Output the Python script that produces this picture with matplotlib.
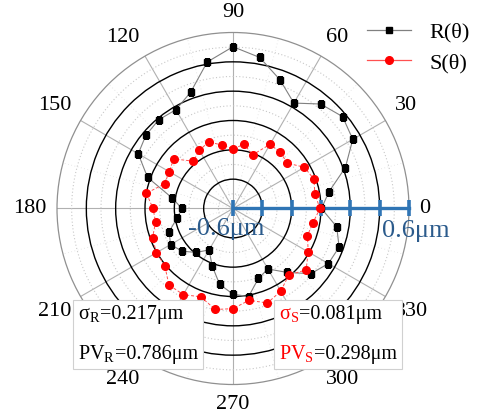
import numpy as np
import matplotlib
matplotlib.use("Agg")
import matplotlib.pyplot as plt
from matplotlib.lines import Line2D
from matplotlib.offsetbox import TextArea, HPacker, VPacker, AnchoredOffsetbox

plt.rcParams['font.family'] = ['Liberation Serif', 'DejaVu Serif']
plt.rcParams['mathtext.fontset'] = 'custom'
plt.rcParams['mathtext.rm'] = 'Liberation Serif'
plt.rcParams['mathtext.it'] = 'Liberation Serif:italic'

# ---- data ----
angles_deg = list(range(0, 360, 10))
R_values = [0.003, 0.065, 0.215, 0.343, 0.375, 0.330, 0.230, 0.335, 0.446, 0.503,
            0.414, 0.244, 0.178, 0.189, 0.176, 0.146, 0.020, -0.177, -0.252, -0.211,
            -0.136, -0.109, -0.147, -0.209, -0.274, -0.184, -0.075, -0.016, 0.010, -0.093,
            -0.124, -0.032, 0.092, 0.151, 0.170, 0.118]
S_values = [-0.007, -0.033, -0.013, -0.038, -0.118, -0.098, -0.095, -0.211, -0.156, -0.192,
            -0.161, -0.116, -0.142, -0.179, -0.074, -0.096, -0.106, 0.000, -0.055, -0.064,
            -0.016, 0.003, 0.007, 0.080, 0.078, 0.041, 0.099, 0.083, 0.035, 0.086,
            0.051, -0.008, 0.051, -0.008, -0.060, -0.046]
angle_tick_labels = ['0', '30', '60', '90', '120', '150', '180', '210', '240', '270', '300', '330']
angle_ticks = list(range(0, 360, 30))
r_major = [-0.4, -0.2, 0.0, 0.2, 0.4]
r_minor = [-0.5, -0.3, -0.1, 0.1, 0.3, 0.5]
scale_ticks = [-0.6, -0.4, -0.2, 0.0, 0.2, 0.4, 0.6]
legend_labels = ['R(θ)', 'S(θ)']
sigma_R, PV_R = '0.217', '0.786'
sigma_S, PV_S = '0.081', '0.298'

W, H = 483, 416
fig = plt.figure(figsize=(W / 100, H / 100), dpi=100)
cx, cy, rad = 233, 208.5, 176
ax = fig.add_axes([(cx - rad) / W, (H - cy - rad) / H, 2 * rad / W, 2 * rad / H],
                  projection='polar')
ax.set_ylim(-0.6, 0.6)
ax.set_thetagrids(angle_ticks, labels=[''] * len(angle_ticks))
ax.set_rgrids(r_major, labels=[''] * len(r_major))
ax.set_yticks(r_minor, minor=True)
ax.set_xticks(np.deg2rad(np.arange(15, 360, 30)), minor=True)
ax.tick_params(axis='both', which='both', length=0)
ax.grid(which='major', axis='y', color='black', lw=1.0, ls='-')
ax.grid(which='major', axis='x', color='#b0b0b0', lw=0.8, ls='-')
ax.grid(which='minor', axis='y', color='#c8c8c8', lw=0.8, ls=(0, (1, 2)))
ax.grid(which='minor', axis='x', color='#e0e0e0', lw=0.6, ls=(0, (1, 3)))
ax.spines['polar'].set_color('#909090')
ax.spines['polar'].set_linewidth(0.9)
ax.set_axisbelow(True)

# angle labels outside, anchored by edge
for a, lab in zip(angle_ticks, angle_tick_labels):
    t = np.deg2rad(a)
    c, s = np.cos(t), np.sin(t)
    ha = 'left' if c > 0.1 else ('right' if c < -0.1 else 'center')
    va = 'bottom' if s > 0.1 else ('top' if s < -0.1 else 'center')
    d = 0.53
    ax.text(0.5 + d * c, 0.5 + d * s, lab, transform=ax.transAxes, ha=ha, va=va,
            fontsize=16, clip_on=False)

th = np.deg2rad(angles_deg)
thc = np.append(th, th[0])
Rc = np.append(R_values, R_values[0])
Sc = np.append(S_values, S_values[0])

# scale bar
ax.plot(np.zeros(len(scale_ticks)), scale_ticks, color='#2f75b5', lw=2.4, zorder=3,
        clip_on=False)
ax.plot(np.zeros(len(scale_ticks)), scale_ticks, ls='none', marker='|', ms=12, mew=2.6,
        color='#2f75b5', zorder=3, clip_on=False)

ax.plot(thc, Rc, color='#808080', lw=0.8, zorder=4)
ax.plot(th, R_values, ls='none', marker='s', ms=5, color='black', zorder=5)
ax.plot(thc, Sc, color='#ff5050', lw=0.7, ls=(0, (3, 2)), zorder=4)
ax.plot(th, S_values, ls='none', marker='o', ms=5.5, color='#ff0000', zorder=5)

ax.text(0.480, 0.442, '-0.6μm', transform=ax.transAxes, ha='center', va='center',
        fontsize=19, color='#2b5b8c', zorder=6)
ax.text(1.020, 0.436, '0.6μm', transform=ax.transAxes, ha='center', va='center',
        fontsize=19, color='#2b5b8c', zorder=6, clip_on=False)

# legend
handles = [Line2D([], [], color='#808080', lw=0.9, marker='s', ms=5, mfc='black', mec='black'),
           Line2D([], [], color='#ff5050', lw=0.9, marker='o', ms=5.5, mfc='#ff0000', mec='#ff0000')]
fig.legend(handles, legend_labels, loc='upper left', bbox_to_anchor=(367 / W, 1 - 22 / H),
           frameon=False, fontsize=16, handlelength=2.0, handletextpad=0.8,
           labelspacing=0.45, borderpad=0, borderaxespad=0)


def stat_box(sub, sig, pv, color, x0):
    fs = 14.5
    l1 = HPacker(children=[TextArea('σ$_\\mathregular{%s}$' % sub, textprops=dict(color=color, fontsize=fs)),
                           TextArea('=%sμm' % sig, textprops=dict(color='black', fontsize=fs))],
                 align='baseline', pad=0, sep=0)
    l2 = HPacker(children=[TextArea('PV$_\\mathregular{%s}$' % sub, textprops=dict(color=color, fontsize=fs)),
                           TextArea('=%sμm' % pv, textprops=dict(color='black', fontsize=fs))],
                 align='baseline', pad=0, sep=0)
    vp = VPacker(children=[l1, l2], align='left', pad=0, sep=14)
    box = AnchoredOffsetbox(loc='upper left', child=vp, pad=0.35, borderpad=0,
                            bbox_to_anchor=(x0 / W, 1 - 300 / H), bbox_transform=fig.transFigure,
                            frameon=True)
    box.patch.set_facecolor('white')
    box.patch.set_edgecolor('#d0d0d0')
    box.patch.set_linewidth(0.8)
    box.set_zorder(10)
    fig.add_artist(box)


stat_box('R', sigma_R, PV_R, 'black', 73)
stat_box('S', sigma_S, PV_S, '#ff0000', 274)

fig.savefig('out.png', dpi=100)
